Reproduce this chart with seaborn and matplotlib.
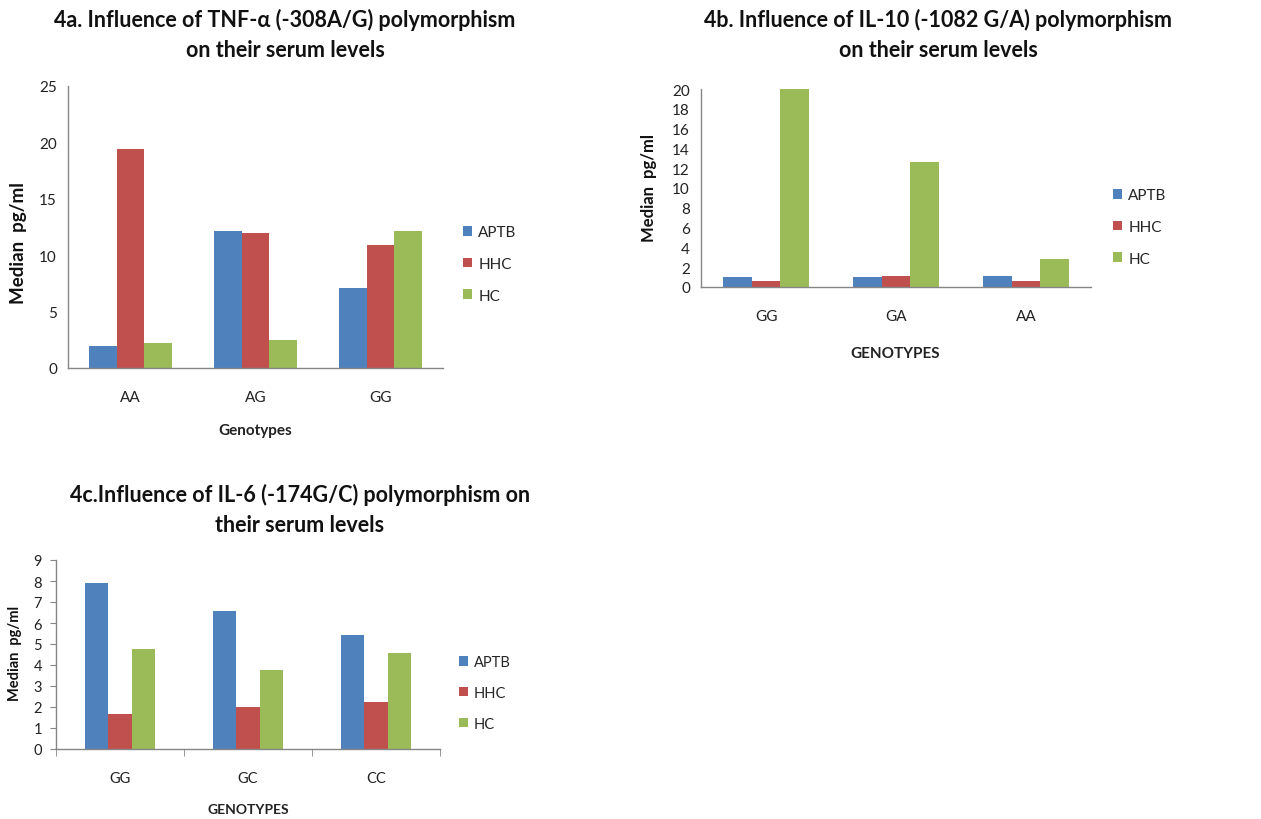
import pandas as pd
import numpy as np
import matplotlib.pyplot as plt
import seaborn as sns

# Data
groups = ['APTB', 'HHC', 'HC']
colors = ['#4F81BD', '#C0504D', '#9BBB59']

tnf_genotypes = ['AA', 'AG', 'GG']
tnf_aptb = [1.95, 12.15, 7.1]
tnf_hhc = [19.4, 12.0, 10.9]
tnf_hc = [2.2, 2.5, 12.15]

il10_genotypes = ['GG', 'GA', 'AA']
il10_aptb = [0.98, 0.98, 1.15]
il10_hhc = [0.64, 1.08, 0.57]
il10_hc = [20.0, 12.65, 2.87]

il6_genotypes = ['GG', 'GC', 'CC']
il6_aptb = [7.89, 6.57, 5.44]
il6_hhc = [1.68, 1.98, 2.22]
il6_hc = [4.76, 3.76, 4.56]

sns.set_style('white')
plt.rcParams['font.family'] = ['Lato', 'DejaVu Sans']

W, H = 1261, 820
fig = plt.figure(figsize=(W / 100, H / 100), dpi=100)


def px_axes(left, right, top, bottom):
    return fig.add_axes([left / W, (H - bottom) / H, (right - left) / W, (bottom - top) / H])


def long_df(genotypes, a, b, c):
    rows = []
    for g, vals in zip(groups, [a, b, c]):
        for gt, v in zip(genotypes, vals):
            rows.append({'Genotype': gt, 'Group': g, 'Value': v})
    return pd.DataFrame(rows)


def draw(ax, df, genotypes, width, ymax, ystep, title, title_xy, xlabel, xlab_pos, ylab_pos,
         leg_xy, tick_fs, ylab_fs, xlab_fs, leg_fs, ticks=False):
    sns.barplot(data=df, x='Genotype', y='Value', hue='Group', order=genotypes, hue_order=groups,
                palette=colors, saturation=1, width=width, errorbar=None, ax=ax, linewidth=0)
    ax.set_xlim(-0.5, 2.5)
    ax.set_ylim(0, ymax)
    ax.set_yticks(np.arange(0, ymax + 0.01, ystep))
    ax.set_yticklabels([f'{int(t)}' for t in ax.get_yticks()])
    for s in ['top', 'right']:
        ax.spines[s].set_visible(False)
    for s in ['left', 'bottom']:
        ax.spines[s].set_color('#868686')
        ax.spines[s].set_linewidth(1.0)
    ax.tick_params(axis='both', labelsize=tick_fs, colors='#222222', length=0)
    ax.tick_params(axis='x', pad=16)
    ax.tick_params(axis='y', pad=8)
    if ticks:
        ax.tick_params(axis='y', which='major', left=True, length=4, color='#868686',
                       direction='out', pad=6)
        ax.set_xticks([-0.5, 0.5, 1.5, 2.5], minor=True)
        ax.tick_params(axis='x', which='minor', bottom=True, length=5, color='#868686',
                       direction='out')
    ax.set_xlabel(xlabel, fontsize=xlab_fs, fontweight='bold', color='#222222')
    ax.xaxis.set_label_coords(*xlab_pos)
    ax.set_ylabel('Median  pg/ml', fontsize=ylab_fs, fontweight='bold', color='#111111')
    ax.yaxis.set_label_coords(*ylab_pos)
    handles, labels = ax.get_legend_handles_labels()
    ax.legend(handles, labels, loc='center left', bbox_to_anchor=(leg_xy[0] / W, (H - leg_xy[1]) / H),
              bbox_transform=fig.transFigure, frameon=False, fontsize=leg_fs,
              handlelength=0.6, handleheight=0.6, handletextpad=0.4, labelspacing=1.15,
              borderpad=0, borderaxespad=0)
    fig.text(title_xy[0] / W, (H - title_xy[1]) / H, title, ha='center', va='center',
             fontsize=15.5, fontweight='bold', color='#111111', linespacing=1.5)


ax_a = px_axes(68, 443, 87, 369)
draw(ax_a, long_df(tnf_genotypes, tnf_aptb, tnf_hhc, tnf_hc), tnf_genotypes, 0.667, 25, 5,
     '4a. Influence of TNF-\u03b1 (-308A/G) polymorphism\non their serum levels', (285, 35),
     'Genotypes', (0.5, -0.195), (-0.109, 0.447), (463, 265), 11, 13.5, 11, 11)

ax_b = px_axes(701, 1091, 90, 288)
draw(ax_b, long_df(il10_genotypes, il10_aptb, il10_hhc, il10_hc), il10_genotypes, 0.667, 20, 2,
     '4b. Influence of IL-10 (-1082 G/A) polymorphism\non their serum levels', (938, 35),
     'GENOTYPES', (0.497, -0.298), (-0.113, 0.505), (1113, 228), 11, 12, 11, 11)

ax_c = px_axes(56, 440, 561, 750)
draw(ax_c, long_df(il6_genotypes, il6_aptb, il6_hhc, il6_hc), il6_genotypes, 0.55, 9, 1,
     '4c.Influence of IL-6 (-174G/C) polymorphism on\ntheir serum levels', (300, 510),
     'GENOTYPES', (0.5, -0.286), (-0.089, 0.513), (459, 694), 10.5, 10.5, 10, 10.5, ticks=True)

fig.savefig('out.png', dpi=100)
